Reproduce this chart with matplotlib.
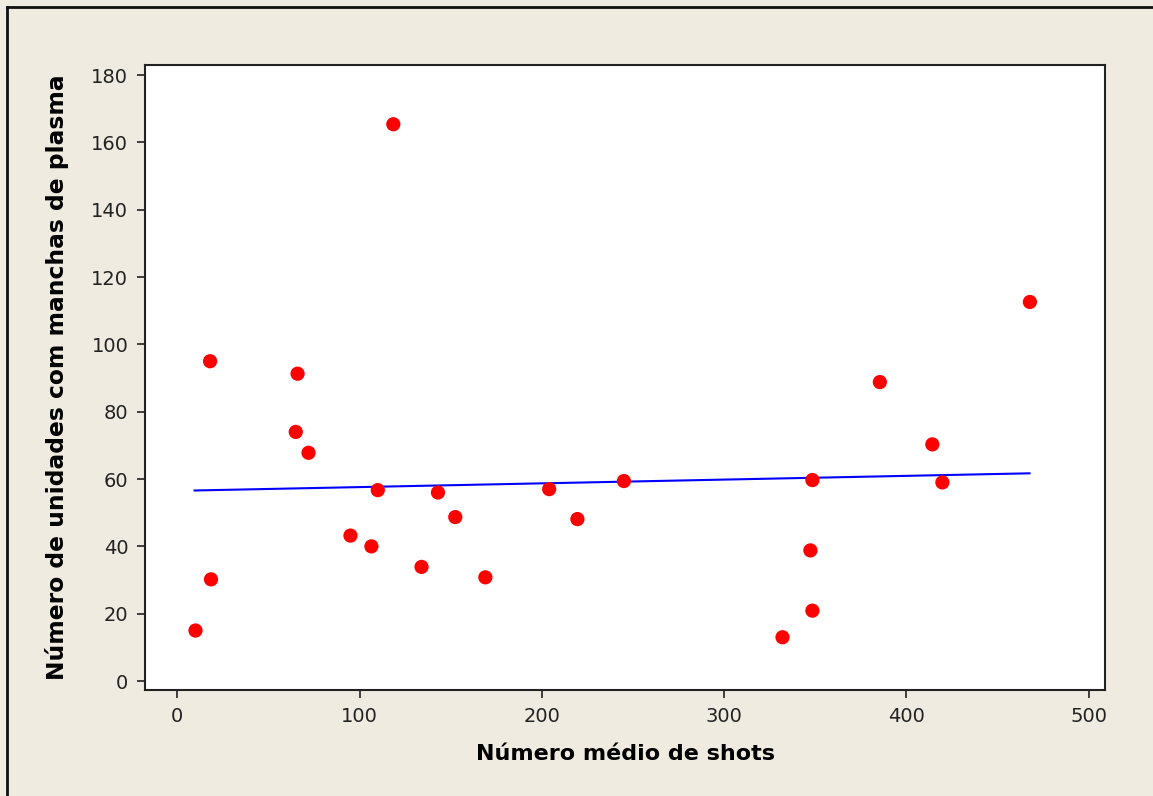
import numpy as np
import matplotlib
matplotlib.use("Agg")
import matplotlib.pyplot as plt
from matplotlib.lines import Line2D

shots = [10, 18, 18.5, 66, 65, 72, 95, 106.5, 110, 118.5, 134, 143, 152.5, 169,
         204, 219.5, 245, 332, 347.3, 348.4, 348.4, 385.4, 414.2, 419.7, 467.7]
units = [15, 95, 30.2, 91.3, 74, 67.8, 43.2, 40, 56.7, 165.4, 33.9, 56, 48.7, 30.8,
         57, 48.1, 59.4, 13, 38.8, 20.9, 59.7, 88.8, 70.3, 59, 112.6]
fit_x = [9.5, 467.5]
fit_y = [56.6, 61.7]

xticks = [0, 100, 200, 300, 400, 500]
yticks = [0, 20, 40, 60, 80, 100, 120, 140, 160, 180]

bg = "#EFEBE1"
fig = plt.figure(figsize=(11.53, 7.96), dpi=100, facecolor=bg)
W, H = 1153, 796
ax = fig.add_axes([145 / W, 1 - 690 / H, (1105 - 145) / W, (690 - 65) / H])
ax.set_facecolor("white")

ax.plot(fit_x, fit_y, color="#0000FF", lw=1.5, zorder=2)
ax.scatter(shots, units, s=105, color="#FF0000", edgecolors="none", zorder=3)

ax.set_xlim(-17.7, 508.9)
ax.set_ylim(-2.67, 183)
ax.set_xticks(xticks)
ax.set_yticks(yticks)
ax.tick_params(labelsize=14, length=6, width=1.2, colors="#222222", pad=6)
for s in ax.spines.values():
    s.set_linewidth(1.5)
    s.set_color("#222222")

ax.set_xlabel("Número médio de shots", fontsize=16, fontweight="bold", labelpad=13)
ax.set_ylabel("Número de unidades com manchas de plasma", fontsize=16.8,
              fontweight="bold", labelpad=16)

# figure border lines (left and top)
fig.add_artist(Line2D([7 / W, 7 / W], [0, 1 - 7 / H], transform=fig.transFigure,
                      color="#111111", lw=2))
fig.add_artist(Line2D([7 / W, 1], [1 - 7 / H, 1 - 7 / H], transform=fig.transFigure,
                      color="#111111", lw=2))

fig.savefig("out.png", dpi=100, facecolor=bg)
